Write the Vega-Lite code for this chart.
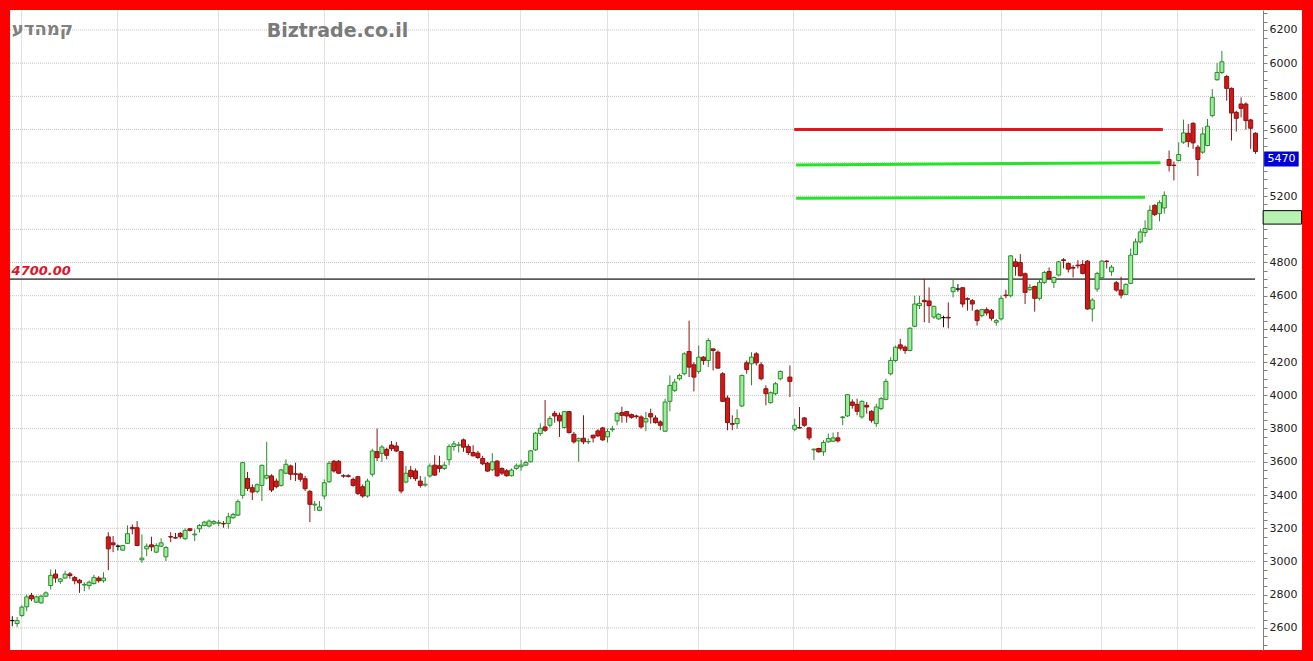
{
  "$schema": "https://vega.github.io/schema/vega-lite/v6.json",
  "width": 1292,
  "height": 640,
  "autosize": {"type": "none"},
  "padding": {"left": 10, "top": 10, "right": 11, "bottom": 11},
  "background": "#ff0000",
  "config": {"view": {"fill": "#ffffff", "stroke": null}},
  "datasets": {
    "ohlc": [
      {"k":0,"o":2644,"h":2670,"l":2610,"c":2644},
      {"k":1,"o":2626,"h":2666,"l":2606,"c":2644},
      {"k":2,"o":2675,"h":2736,"l":2665,"c":2725},
      {"k":3,"o":2727,"h":2801,"l":2700,"c":2787},
      {"k":4,"o":2795,"h":2811,"l":2761,"c":2775},
      {"k":5,"o":2755,"h":2795,"l":2750,"c":2787},
      {"k":6,"o":2751,"h":2800,"l":2745,"c":2791},
      {"k":7,"o":2791,"h":2820,"l":2785,"c":2811},
      {"k":8,"o":2855,"h":2952,"l":2831,"c":2916},
      {"k":9,"o":2924,"h":2952,"l":2872,"c":2900},
      {"k":10,"o":2880,"h":2900,"l":2865,"c":2895},
      {"k":11,"o":2900,"h":2944,"l":2896,"c":2924},
      {"k":12,"o":2925,"h":2936,"l":2896,"c":2915},
      {"k":13,"o":2904,"h":2912,"l":2862,"c":2884},
      {"k":14,"o":2887,"h":2895,"l":2811,"c":2871},
      {"k":15,"o":2858,"h":2875,"l":2820,"c":2862},
      {"k":16,"o":2855,"h":2885,"l":2831,"c":2875},
      {"k":17,"o":2867,"h":2920,"l":2861,"c":2904},
      {"k":18,"o":2900,"h":2912,"l":2872,"c":2884},
      {"k":19,"o":2884,"h":2935,"l":2872,"c":2900},
      {"k":20,"o":3148,"h":3176,"l":2948,"c":3076},
      {"k":21,"o":3112,"h":3153,"l":3056,"c":3100},
      {"k":22,"o":3092,"h":3102,"l":3066,"c":3092},
      {"k":23,"o":3068,"h":3100,"l":3066,"c":3096},
      {"k":24,"o":3109,"h":3217,"l":3106,"c":3167},
      {"k":25,"o":3205,"h":3223,"l":3163,"c":3197},
      {"k":26,"o":3203,"h":3243,"l":3092,"c":3096},
      {"k":27,"o":3010,"h":3163,"l":2992,"c":3020},
      {"k":28,"o":3076,"h":3108,"l":3032,"c":3092},
      {"k":29,"o":3100,"h":3149,"l":3062,"c":3088},
      {"k":30,"o":3056,"h":3110,"l":3050,"c":3096},
      {"k":31,"o":3092,"h":3140,"l":3086,"c":3112},
      {"k":32,"o":3028,"h":3092,"l":3002,"c":3084},
      {"k":33,"o":3150,"h":3176,"l":3116,"c":3147},
      {"k":34,"o":3143,"h":3172,"l":3137,"c":3141},
      {"k":35,"o":3169,"h":3177,"l":3137,"c":3149},
      {"k":36,"o":3137,"h":3200,"l":3130,"c":3187},
      {"k":37,"o":3197,"h":3200,"l":3180,"c":3187},
      {"k":38,"o":3160,"h":3193,"l":3123,"c":3165},
      {"k":39,"o":3197,"h":3225,"l":3175,"c":3217},
      {"k":40,"o":3217,"h":3245,"l":3211,"c":3237},
      {"k":41,"o":3213,"h":3253,"l":3205,"c":3243},
      {"k":42,"o":3230,"h":3250,"l":3220,"c":3240},
      {"k":43,"o":3230,"h":3250,"l":3213,"c":3235},
      {"k":44,"o":3229,"h":3243,"l":3203,"c":3226},
      {"k":45,"o":3229,"h":3293,"l":3197,"c":3269},
      {"k":46,"o":3263,"h":3293,"l":3257,"c":3283},
      {"k":47,"o":3279,"h":3374,"l":3273,"c":3360},
      {"k":48,"o":3398,"h":3599,"l":3378,"c":3595},
      {"k":49,"o":3500,"h":3539,"l":3424,"c":3440},
      {"k":50,"o":3444,"h":3464,"l":3370,"c":3418},
      {"k":51,"o":3422,"h":3470,"l":3410,"c":3462},
      {"k":52,"o":3458,"h":3583,"l":3364,"c":3579},
      {"k":53,"o":3502,"h":3720,"l":3494,"c":3518},
      {"k":54,"o":3515,"h":3525,"l":3418,"c":3430},
      {"k":55,"o":3484,"h":3500,"l":3440,"c":3450},
      {"k":56,"o":3458,"h":3556,"l":3450,"c":3551},
      {"k":57,"o":3531,"h":3615,"l":3525,"c":3585},
      {"k":58,"o":3575,"h":3583,"l":3490,"c":3525},
      {"k":59,"o":3528,"h":3595,"l":3484,"c":3525},
      {"k":60,"o":3527,"h":3535,"l":3480,"c":3495},
      {"k":61,"o":3498,"h":3515,"l":3424,"c":3438},
      {"k":62,"o":3422,"h":3430,"l":3237,"c":3344},
      {"k":63,"o":3340,"h":3364,"l":3304,"c":3345},
      {"k":64,"o":3308,"h":3364,"l":3303,"c":3328},
      {"k":65,"o":3394,"h":3494,"l":3374,"c":3474},
      {"k":66,"o":3480,"h":3605,"l":3474,"c":3591},
      {"k":67,"o":3603,"h":3611,"l":3535,"c":3545},
      {"k":68,"o":3603,"h":3611,"l":3527,"c":3531},
      {"k":69,"o":3516,"h":3525,"l":3504,"c":3514},
      {"k":70,"o":3516,"h":3525,"l":3505,"c":3512},
      {"k":71,"o":3494,"h":3505,"l":3450,"c":3458},
      {"k":72,"o":3510,"h":3515,"l":3400,"c":3410},
      {"k":73,"o":3450,"h":3464,"l":3384,"c":3394},
      {"k":74,"o":3394,"h":3498,"l":3384,"c":3484},
      {"k":75,"o":3525,"h":3679,"l":3510,"c":3665},
      {"k":76,"o":3661,"h":3800,"l":3605,"c":3625},
      {"k":77,"o":3651,"h":3700,"l":3599,"c":3689},
      {"k":78,"o":3675,"h":3685,"l":3615,"c":3639},
      {"k":79,"o":3701,"h":3725,"l":3665,"c":3679},
      {"k":80,"o":3695,"h":3720,"l":3659,"c":3665},
      {"k":81,"o":3661,"h":3665,"l":3410,"c":3424},
      {"k":82,"o":3478,"h":3575,"l":3470,"c":3531},
      {"k":83,"o":3549,"h":3575,"l":3495,"c":3511},
      {"k":84,"o":3545,"h":3560,"l":3485,"c":3499},
      {"k":85,"o":3484,"h":3515,"l":3444,"c":3458},
      {"k":86,"o":3460,"h":3510,"l":3450,"c":3465},
      {"k":87,"o":3515,"h":3590,"l":3505,"c":3575},
      {"k":88,"o":3580,"h":3640,"l":3516,"c":3520},
      {"k":89,"o":3576,"h":3636,"l":3536,"c":3560},
      {"k":90,"o":3560,"h":3600,"l":3550,"c":3580},
      {"k":91,"o":3612,"h":3706,"l":3580,"c":3692},
      {"k":92,"o":3692,"h":3726,"l":3666,"c":3708},
      {"k":93,"o":3700,"h":3720,"l":3656,"c":3702},
      {"k":94,"o":3732,"h":3740,"l":3660,"c":3688},
      {"k":95,"o":3692,"h":3706,"l":3640,"c":3656},
      {"k":96,"o":3656,"h":3700,"l":3632,"c":3636},
      {"k":97,"o":3652,"h":3666,"l":3616,"c":3626},
      {"k":98,"o":3620,"h":3636,"l":3580,"c":3588},
      {"k":99,"o":3592,"h":3600,"l":3540,"c":3544},
      {"k":100,"o":3552,"h":3652,"l":3544,"c":3600},
      {"k":101,"o":3604,"h":3610,"l":3510,"c":3516},
      {"k":102,"o":3560,"h":3566,"l":3520,"c":3532},
      {"k":103,"o":3546,"h":3556,"l":3510,"c":3516},
      {"k":104,"o":3516,"h":3560,"l":3512,"c":3550},
      {"k":105,"o":3560,"h":3590,"l":3550,"c":3576},
      {"k":106,"o":3570,"h":3612,"l":3546,"c":3580},
      {"k":107,"o":3580,"h":3606,"l":3575,"c":3596},
      {"k":108,"o":3600,"h":3672,"l":3596,"c":3666},
      {"k":109,"o":3672,"h":3780,"l":3666,"c":3772},
      {"k":110,"o":3770,"h":3832,"l":3756,"c":3802},
      {"k":111,"o":3810,"h":3972,"l":3780,"c":3790},
      {"k":112,"o":3820,"h":3876,"l":3806,"c":3860},
      {"k":113,"o":3892,"h":3906,"l":3836,"c":3876},
      {"k":114,"o":3880,"h":3896,"l":3750,"c":3846},
      {"k":115,"o":3806,"h":3906,"l":3800,"c":3902},
      {"k":116,"o":3902,"h":3906,"l":3770,"c":3776},
      {"k":117,"o":3766,"h":3780,"l":3710,"c":3720},
      {"k":118,"o":3726,"h":3746,"l":3600,"c":3740},
      {"k":119,"o":3742,"h":3880,"l":3706,"c":3720},
      {"k":120,"o":3720,"h":3740,"l":3706,"c":3722},
      {"k":121,"o":3760,"h":3764,"l":3716,"c":3744},
      {"k":122,"o":3786,"h":3796,"l":3750,"c":3756},
      {"k":123,"o":3804,"h":3810,"l":3726,"c":3732},
      {"k":124,"o":3750,"h":3800,"l":3716,"c":3782},
      {"k":125,"o":3794,"h":3816,"l":3780,"c":3798},
      {"k":126,"o":3846,"h":3900,"l":3820,"c":3892},
      {"k":127,"o":3896,"h":3932,"l":3836,"c":3880},
      {"k":128,"o":3902,"h":3906,"l":3836,"c":3876},
      {"k":129,"o":3884,"h":3890,"l":3860,"c":3868},
      {"k":130,"o":3876,"h":3884,"l":3860,"c":3872},
      {"k":131,"o":3870,"h":3880,"l":3800,"c":3810},
      {"k":132,"o":3840,"h":3900,"l":3784,"c":3860},
      {"k":133,"o":3890,"h":3920,"l":3830,"c":3870},
      {"k":134,"o":3864,"h":3880,"l":3830,"c":3836},
      {"k":135,"o":3840,"h":3850,"l":3790,"c":3820},
      {"k":136,"o":3784,"h":3980,"l":3780,"c":3960},
      {"k":137,"o":3964,"h":4120,"l":3904,"c":4060},
      {"k":138,"o":4030,"h":4100,"l":4020,"c":4080},
      {"k":139,"o":4100,"h":4130,"l":4090,"c":4120},
      {"k":140,"o":4130,"h":4260,"l":4120,"c":4250},
      {"k":141,"o":4264,"h":4450,"l":4110,"c":4170},
      {"k":142,"o":4184,"h":4200,"l":4024,"c":4110},
      {"k":143,"o":4144,"h":4300,"l":4130,"c":4230},
      {"k":144,"o":4230,"h":4236,"l":4184,"c":4210},
      {"k":145,"o":4210,"h":4344,"l":4170,"c":4330},
      {"k":146,"o":4280,"h":4280,"l":4150,"c":4270},
      {"k":147,"o":4260,"h":4270,"l":4160,"c":4164},
      {"k":148,"o":4130,"h":4140,"l":3960,"c":3964},
      {"k":149,"o":3984,"h":4000,"l":3790,"c":3836},
      {"k":150,"o":3830,"h":3880,"l":3790,"c":3826},
      {"k":151,"o":3830,"h":3916,"l":3800,"c":3860},
      {"k":152,"o":3936,"h":4125,"l":3930,"c":4120},
      {"k":153,"o":4196,"h":4210,"l":4130,"c":4156},
      {"k":154,"o":4190,"h":4260,"l":4060,"c":4230},
      {"k":155,"o":4250,"h":4260,"l":4180,"c":4196},
      {"k":156,"o":4184,"h":4200,"l":4090,"c":4100},
      {"k":157,"o":4040,"h":4060,"l":3940,"c":4010},
      {"k":158,"o":3956,"h":4024,"l":3950,"c":4016},
      {"k":159,"o":4010,"h":4080,"l":4000,"c":4070},
      {"k":160,"o":4100,"h":4150,"l":4090,"c":4144},
      {"k":162,"o":4110,"h":4180,"l":3990,"c":4084},
      {"k":163,"o":3796,"h":3860,"l":3784,"c":3820},
      {"k":164,"o":3806,"h":3930,"l":3800,"c":3804},
      {"k":165,"o":3864,"h":3870,"l":3810,"c":3820},
      {"k":166,"o":3804,"h":3810,"l":3730,"c":3744},
      {"k":167,"o":3672,"h":3680,"l":3610,"c":3676},
      {"k":168,"o":3680,"h":3684,"l":3656,"c":3660},
      {"k":169,"o":3660,"h":3730,"l":3636,"c":3716},
      {"k":170,"o":3720,"h":3770,"l":3716,"c":3740},
      {"k":171,"o":3724,"h":3776,"l":3720,"c":3744},
      {"k":172,"o":3744,"h":3780,"l":3716,"c":3726},
      {"k":173,"o":3866,"h":3876,"l":3820,"c":3870},
      {"k":174,"o":3876,"h":4008,"l":3870,"c":4004},
      {"k":175,"o":3960,"h":3976,"l":3920,"c":3940},
      {"k":176,"o":3946,"h":3980,"l":3880,"c":3904},
      {"k":177,"o":3870,"h":3970,"l":3860,"c":3964},
      {"k":178,"o":3940,"h":3960,"l":3890,"c":3930},
      {"k":179,"o":3904,"h":3910,"l":3836,"c":3850},
      {"k":180,"o":3830,"h":3950,"l":3810,"c":3930},
      {"k":181,"o":3920,"h":3990,"l":3910,"c":3980},
      {"k":182,"o":3976,"h":4100,"l":3970,"c":4084},
      {"k":183,"o":4130,"h":4230,"l":4120,"c":4210},
      {"k":184,"o":4210,"h":4300,"l":4200,"c":4290},
      {"k":185,"o":4304,"h":4340,"l":4270,"c":4284},
      {"k":186,"o":4290,"h":4300,"l":4250,"c":4270},
      {"k":187,"o":4270,"h":4410,"l":4265,"c":4404},
      {"k":188,"o":4416,"h":4600,"l":4410,"c":4550},
      {"k":189,"o":4540,"h":4600,"l":4520,"c":4554},
      {"k":190,"o":4572,"h":4700,"l":4440,"c":4564},
      {"k":191,"o":4568,"h":4650,"l":4436,"c":4540},
      {"k":192,"o":4472,"h":4540,"l":4460,"c":4536},
      {"k":193,"o":4460,"h":4495,"l":4455,"c":4488},
      {"k":194,"o":4468,"h":4480,"l":4410,"c":4468},
      {"k":195,"o":4470,"h":4560,"l":4404,"c":4466},
      {"k":196,"o":4624,"h":4700,"l":4590,"c":4650},
      {"k":197,"o":4640,"h":4670,"l":4624,"c":4640},
      {"k":198,"o":4648,"h":4650,"l":4530,"c":4550},
      {"k":199,"o":4582,"h":4590,"l":4510,"c":4578},
      {"k":200,"o":4570,"h":4580,"l":4510,"c":4550},
      {"k":201,"o":4510,"h":4520,"l":4420,"c":4450},
      {"k":202,"o":4480,"h":4520,"l":4470,"c":4516},
      {"k":203,"o":4516,"h":4530,"l":4480,"c":4496},
      {"k":204,"o":4510,"h":4520,"l":4450,"c":4464},
      {"k":205,"o":4440,"h":4460,"l":4420,"c":4450},
      {"k":206,"o":4460,"h":4600,"l":4450,"c":4584},
      {"k":207,"o":4604,"h":4636,"l":4584,"c":4600},
      {"k":208,"o":4600,"h":4844,"l":4590,"c":4840},
      {"k":209,"o":4804,"h":4824,"l":4720,"c":4776},
      {"k":210,"o":4800,"h":4850,"l":4716,"c":4720},
      {"k":211,"o":4732,"h":4740,"l":4550,"c":4620},
      {"k":212,"o":4636,"h":4670,"l":4630,"c":4650},
      {"k":213,"o":4656,"h":4660,"l":4504,"c":4584},
      {"k":214,"o":4584,"h":4700,"l":4572,"c":4680},
      {"k":215,"o":4680,"h":4750,"l":4670,"c":4740},
      {"k":216,"o":4746,"h":4770,"l":4700,"c":4704},
      {"k":217,"o":4680,"h":4716,"l":4646,"c":4710},
      {"k":218,"o":4724,"h":4810,"l":4716,"c":4804},
      {"k":219,"o":4816,"h":4826,"l":4764,"c":4812},
      {"k":220,"o":4794,"h":4800,"l":4740,"c":4760},
      {"k":221,"o":4770,"h":4784,"l":4710,"c":4766},
      {"k":222,"o":4784,"h":4814,"l":4764,"c":4780},
      {"k":223,"o":4788,"h":4814,"l":4728,"c":4734},
      {"k":224,"o":4808,"h":4814,"l":4516,"c":4520},
      {"k":225,"o":4520,"h":4584,"l":4444,"c":4574},
      {"k":226,"o":4640,"h":4744,"l":4624,"c":4734},
      {"k":227,"o":4708,"h":4814,"l":4704,"c":4808},
      {"k":228,"o":4808,"h":4814,"l":4764,"c":4806},
      {"k":229,"o":4744,"h":4784,"l":4720,"c":4772},
      {"k":230,"o":4678,"h":4688,"l":4624,"c":4634},
      {"k":231,"o":4634,"h":4714,"l":4584,"c":4604},
      {"k":232,"o":4608,"h":4674,"l":4604,"c":4668},
      {"k":233,"o":4674,"h":4884,"l":4670,"c":4844},
      {"k":234,"o":4848,"h":4944,"l":4844,"c":4924},
      {"k":235,"o":4924,"h":5004,"l":4914,"c":4984},
      {"k":236,"o":4980,"h":5054,"l":4954,"c":5004},
      {"k":237,"o":5000,"h":5144,"l":4994,"c":5114},
      {"k":238,"o":5144,"h":5150,"l":5080,"c":5088},
      {"k":239,"o":5094,"h":5174,"l":5048,"c":5160},
      {"k":240,"o":5128,"h":5228,"l":5094,"c":5204},
      {"k":241,"o":5420,"h":5474,"l":5348,"c":5384},
      {"k":242,"o":5386,"h":5408,"l":5294,"c":5384},
      {"k":243,"o":5414,"h":5524,"l":5408,"c":5450},
      {"k":244,"o":5524,"h":5660,"l":5514,"c":5580},
      {"k":245,"o":5578,"h":5634,"l":5494,"c":5528},
      {"k":246,"o":5638,"h":5644,"l":5484,"c":5520},
      {"k":247,"o":5494,"h":5508,"l":5320,"c":5420},
      {"k":248,"o":5464,"h":5614,"l":5454,"c":5574},
      {"k":249,"o":5504,"h":5664,"l":5500,"c":5620},
      {"k":250,"o":5684,"h":5844,"l":5674,"c":5794},
      {"k":251,"o":5900,"h":6000,"l":5894,"c":5944},
      {"k":252,"o":5944,"h":6074,"l":5934,"c":6008},
      {"k":253,"o":5920,"h":5928,"l":5774,"c":5848},
      {"k":254,"o":5848,"h":5854,"l":5534,"c":5700},
      {"k":255,"o":5704,"h":5714,"l":5588,"c":5668},
      {"k":256,"o":5754,"h":5794,"l":5674,"c":5728},
      {"k":257,"o":5754,"h":5764,"l":5600,"c":5654},
      {"k":258,"o":5658,"h":5664,"l":5484,"c":5608},
      {"k":259,"o":5578,"h":5584,"l":5454,"c":5468}
    ],
    "trend": [
      {"k1":162.9,"k2":239.7,"p1":5600,"p2":5600,"kind":"resistance"},
      {"k1":163.3,"k2":239.2,"p1":5387,"p2":5401,"kind":"support"},
      {"k1":163.3,"k2":236.0,"p1":5187,"p2":5193,"kind":"support"}
    ],
    "grid": [
      {"p":2600},{"p":2800},{"p":3000},{"p":3200},{"p":3400},{"p":3600},{"p":3800},{"p":4000},{"p":4200},{"p":4400},
      {"p":4600},{"p":4800},{"p":5000},{"p":5200},{"p":5400},{"p":5600},{"p":5800},{"p":6000},{"p":6200}
    ],
    "one": [{}]
  },
  "layer": [
    {
      "data": {"name": "grid"},
      "mark": {"type": "rule", "color": "#c4c4c4", "strokeDash": [1, 1], "strokeWidth": 1},
      "encoding": {
        "y": {
          "field": "p", "type": "quantitative",
          "scale": {"domain": [2467, 6320], "nice": false, "zero": false, "padding": 0},
          "axis": {
            "orient": "right", "offset": -39, "title": null, "grid": false,
            "values": [2500,2550,2600,2650,2700,2750,2800,2850,2900,2950,3000,3050,3100,3150,3200,3250,3300,3350,3400,3450,3500,3550,3600,3650,3700,3750,3800,3850,3900,3950,4000,4050,4100,4150,4200,4250,4300,4350,4400,4450,4500,4550,4600,4650,4700,4750,4800,4850,4900,4950,5000,5050,5100,5150,5200,5250,5300,5350,5400,5450,5500,5550,5600,5650,5700,5750,5800,5850,5900,5950,6000,6050,6100,6150,6200,6250,6300],
            "tickCount": 500,
            "format": "d",
            "labelExpr": "(datum.value % 200 == 0 && datum.value != 5000 && datum.value != 5400) ? datum.label : ''",
            "labelOverlap": false, "labelBound": false,
            "labelFont": "DejaVu Sans", "labelFontSize": 11, "labelColor": "#222222",
            "labelPadding": 2, "tickSize": 4, "tickColor": "#808080", "domainColor": "#808080"
          }
        },
        "x": {
          "datum": -0.48, "type": "quantitative",
          "scale": {"domain": [-0.48, 268.69], "nice": false, "zero": false, "padding": 0},
          "axis": {
            "title": null, "labels": false, "ticks": false, "domain": false, "grid": true,
            "values": [1.8, 21.9, 42.8, 64.9, 86.7, 105.8, 123.8, 142.8, 162.7, 183.9, 205.9, 226.9, 242.7],
            "tickCount": 100,
            "gridColor": "#c4c4c4", "gridDash": [1, 1], "gridWidth": 1
          }
        },
        "x2": {"datum": 258.9}
      }
    },
    {
      "data": {"name": "one"},
      "mark": {"type": "rule", "color": "#5a5a5a", "strokeWidth": 1.6},
      "encoding": {
        "y": {"datum": 4700, "type": "quantitative"},
        "x": {"datum": -0.48, "type": "quantitative"},
        "x2": {"datum": 258.9}
      }
    },
    {
      "data": {"name": "one"},
      "mark": {"type": "text", "text": "4700.00", "font": "DejaVu Sans", "fontSize": 13, "fontWeight": "bold", "fontStyle": "italic", "color": "#e0142a", "align": "left", "baseline": "alphabetic"},
      "encoding": {
        "x": {"datum": -0.15, "type": "quantitative"},
        "y": {"datum": 4725, "type": "quantitative"}
      }
    },
    {
      "data": {"name": "trend"},
      "mark": {"type": "rule", "strokeWidth": 3},
      "encoding": {
        "x": {"field": "k1", "type": "quantitative"},
        "x2": {"field": "k2"},
        "y": {"field": "p1", "type": "quantitative"},
        "y2": {"field": "p2"},
        "color": {"field": "kind", "type": "nominal", "scale": {"domain": ["resistance", "support"], "range": ["#e8141c", "#22e622"]}, "legend": null}
      }
    },
    {
      "data": {"name": "ohlc"},
      "mark": {"type": "rule", "strokeWidth": 1},
      "encoding": {
        "x": {"field": "k", "type": "quantitative"},
        "y": {"field": "l", "type": "quantitative"},
        "y2": {"field": "h"},
        "color": {"condition": [{"test": "datum.c > datum.o", "value": "#2f8a2f"}, {"test": "datum.c < datum.o", "value": "#8b1414"}], "value": "#111111"}
      }
    },
    {
      "data": {"name": "ohlc"},
      "mark": {"type": "bar", "size": 4, "strokeWidth": 1},
      "encoding": {
        "x": {"field": "k", "type": "quantitative"},
        "y": {"field": "o", "type": "quantitative"},
        "y2": {"field": "c"},
        "fill": {"condition": [{"test": "datum.c > datum.o", "value": "#9aee9a"}, {"test": "datum.c < datum.o", "value": "#d41818"}], "value": "#111111"},
        "stroke": {"condition": [{"test": "datum.c > datum.o", "value": "#2f8a2f"}, {"test": "datum.c < datum.o", "value": "#8b1010"}], "value": "#111111"}
      }
    },
    {
      "data": {"name": "one"},
      "mark": {"type": "text", "text": "קמהדע", "font": "DejaVu Sans", "fontSize": 18, "fontWeight": "bold", "color": "#808080", "align": "left", "baseline": "alphabetic"},
      "encoding": {
        "x": {"datum": -0.1, "type": "quantitative"},
        "y": {"datum": 6168, "type": "quantitative"}
      }
    },
    {
      "data": {"name": "one"},
      "mark": {"type": "text", "text": "Biztrade.co.il", "font": "DejaVu Sans", "fontSize": 19, "fontWeight": "bold", "color": "#7a7a7a", "align": "left", "baseline": "alphabetic"},
      "encoding": {
        "x": {"datum": 53.0, "type": "quantitative"},
        "y": {"datum": 6156, "type": "quantitative"}
      }
    },
    {
      "data": {"name": "one"},
      "mark": {"type": "rect", "color": "#b6f2b0", "stroke": "#000000", "strokeWidth": 1},
      "encoding": {
        "x": {"datum": 260.6, "type": "quantitative"},
        "x2": {"datum": 268.6},
        "y": {"datum": 5112, "type": "quantitative"},
        "y2": {"datum": 5031}
      }
    },
    {
      "data": {"name": "one"},
      "mark": {"type": "rect", "color": "#0000dd"},
      "encoding": {
        "x": {"datum": 260.8, "type": "quantitative"},
        "x2": {"datum": 268.0},
        "y": {"datum": 5468, "type": "quantitative"},
        "y2": {"datum": 5378}
      }
    },
    {
      "data": {"name": "one"},
      "mark": {"type": "text", "text": "5470", "font": "DejaVu Sans", "fontSize": 11, "color": "#ffffff", "align": "center", "baseline": "middle"},
      "encoding": {
        "x": {"datum": 264.4, "type": "quantitative"},
        "y": {"datum": 5423, "type": "quantitative"}
      }
    }
  ]
}
